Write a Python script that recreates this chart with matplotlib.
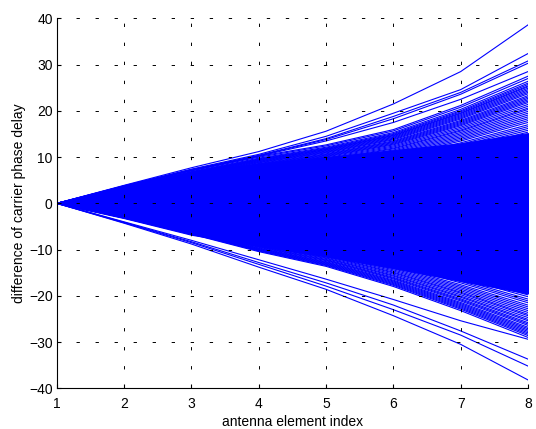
import matplotlib.pyplot as plt
import numpy as np

plt.rcParams['font.family'] = ['Liberation Sans', 'DejaVu Sans']
plt.rcParams['lines.scale_dashes'] = False

# antenna element index
element_index = [1, 2, 3, 4, 5, 6, 7, 8]

# individual outer lines
upper_lines = [
    [0, 3.9, 7.7, 11.2, 15.6, 21.5, 28.5, 38.6],
    [0, 3.8, 7.4, 10.6, 14.5, 19.5, 24.6, 32.4],
    [0, 3.8, 7.3, 10.4, 14.0, 18.8, 24.0, 30.8],
    [0, 3.7, 7.2, 10.3, 13.8, 18.3, 23.6, 30.3],
    [0, 3.7, 7.1, 10.2, 13.5, 17.5, 22.5, 28.5],
]
lower_lines = [
    [0, -4.3, -8.8, -13.8, -18.6, -24.3, -30.5, -38.2],
    [0, -4.2, -8.5, -13.2, -17.9, -23.0, -28.5, -35.2],
    [0, -4.1, -8.3, -12.8, -17.2, -22.0, -27.6, -33.7],
    [0, -4.0, -8.0, -12.2, -16.4, -20.8, -25.4, -29.4],
]

# shape of the fringe lines (fraction of the value at element 8)
upper_profile = [0, 0.13, 0.26, 0.37, 0.46, 0.58, 0.77, 1.0]
lower_profile = [0, 0.11, 0.23, 0.36, 0.47, 0.62, 0.80, 1.0]

# values at element 8 of the fringe lines
upper_ends = [27.5, 27.0, 26.4, 26.0, 25.7, 25.4, 25.2, 24.9, 24.6, 24.3,
              24.0, 23.7, 23.3, 23.0, 22.7, 22.4, 22.1, 21.8, 21.4, 21.0,
              20.6, 20.3, 19.9, 19.5, 19.1, 18.7, 18.3, 17.9, 17.5, 17.0,
              16.6, 16.2, 15.8, 15.4]
lower_ends = [-29.0, -28.6, -28.3, -28.0, -27.7, -27.4, -27.1, -26.8, -26.4,
              -26.1, -25.8, -25.4, -25.1, -24.7, -24.3, -24.0, -23.6, -23.2,
              -22.8, -22.4, -22.0, -21.5, -21.1, -20.7, -20.2, -19.8, -19.3]

# solid dense core of the bundle
core_top = [0, 3.4, 6.8, 8.6, 10.0, 11.5, 13.0, 15.2]
core_bottom = [0, -3.2, -6.8, -9.2, -11.5, -14.0, -16.8, -19.5]

blue = '#0000ff'

fig = plt.figure(figsize=(5.36, 4.29), dpi=100)
ax = fig.add_axes([0.106, 0.095, 0.879, 0.862])

ax.fill_between(element_index, core_bottom, core_top, color=blue, lw=0.8)
for e in upper_ends:
    ax.plot(element_index, np.array(upper_profile) * e, color=blue, lw=0.8)
for e in lower_ends:
    ax.plot(element_index, np.array(lower_profile) * e, color=blue, lw=0.8)
for line in upper_lines + lower_lines:
    ax.plot(element_index, line, color=blue, lw=0.8)

ax.set_xlim(1, 8)
ax.set_ylim(-40, 40)
ax.set_xticks(range(1, 9))
ax.set_yticks(range(-40, 41, 10))
ax.grid(True, color='black', linestyle=(0, (2.4, 11.3)), linewidth=0.7)
ax.set_axisbelow(False)

for s in ['top', 'right']:
    ax.spines[s].set_visible(False)
ax.spines['left'].set_linewidth(0.8)
ax.spines['bottom'].set_linewidth(0.8)
ax.tick_params(direction='in', length=3, width=0.8, labelsize=10)
ax.tick_params(axis='x', pad=6)
ax.tick_params(axis='y', pad=3)

ax.set_xlabel('antenna element index', fontsize=10, labelpad=3)
ax.set_ylabel('difference of carrier phase delay', fontsize=10, labelpad=2)

fig.savefig('out.png', dpi=100)
